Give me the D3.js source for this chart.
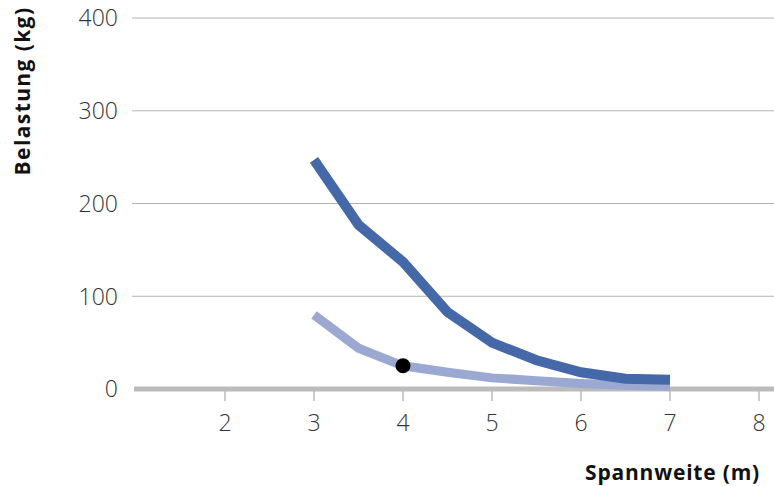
<!DOCTYPE html>
<html>
<head>
<meta charset="utf-8">
<script src="https://cdn.jsdelivr.net/npm/d3@7"></script>
<style>
  body { margin: 0; background: #fff; }
  text { font-family: "Open Sans", "DejaVu Sans", sans-serif; }
</style>
</head>
<body>
<svg id="drawing_region"></svg>
<script>
// Spannweite (m)
const spans = [3, 3.5, 4, 4.5, 5, 5.5, 6, 6.5, 7];
// Belastung (kg)
const loadHigh = [247, 177, 137, 83, 50, 31, 18, 11, 10];
const loadLow = [80, 44, 25, 18, 12, 9, 6, 4, 3];
const marker = {x: 4, y: 25};
const xTicks = [2, 3, 4, 5, 6, 7, 8];
const yTicks = [0, 100, 200, 300, 400];

const width = 774, height = 486;
const margin = {top: 18, right: 15, bottom: 97, left: 136};

const svg = d3.select('#drawing_region')
    .attr('width', width)
    .attr('height', height);

const chart = svg.append('g')
    .attr('transform', `translate(${margin.left}, ${margin.top})`);

const inner_height = height - margin.top - margin.bottom;

const xscale = d3.scaleLinear()
    .domain([1, 8])
    .range([0, 623]);

const yscale = d3.scaleLinear()
    .domain([0, 400])
    .range([inner_height, 0]);

// gridlines
chart.append('g')
    .selectAll('line')
    .data(yTicks.filter(d => d > 0))
    .join('line')
    .attr('x1', -4)
    .attr('x2', width - margin.left)
    .attr('y1', d => yscale(d))
    .attr('y2', d => yscale(d))
    .attr('stroke', '#b3b3b3')
    .attr('stroke-width', 1.2);

// y tick labels
chart.append('g')
    .selectAll('text')
    .data(yTicks)
    .join('text')
    .attr('x', -18)
    .attr('y', d => yscale(d))
    .attr('dy', '0.36em')
    .attr('text-anchor', 'end')
    .attr('font-size', '23px')
    .attr('font-weight', 300)
    .attr('fill', '#333')
    .text(d => d);

// x axis
const xaxis_group = chart.append('g')
    .attr('transform', `translate(0, ${yscale(0)})`);

xaxis_group.selectAll('line.tick')
    .data(xTicks)
    .join('line')
    .attr('class', 'tick')
    .attr('x1', d => xscale(d))
    .attr('x2', d => xscale(d))
    .attr('y1', 0)
    .attr('y2', 12)
    .attr('stroke', '#aaa')
    .attr('stroke-width', 1.2);

xaxis_group.selectAll('text')
    .data(xTicks)
    .join('text')
    .attr('x', d => xscale(d))
    .attr('y', 42)
    .attr('text-anchor', 'middle')
    .attr('font-size', '23px')
    .attr('font-weight', 300)
    .attr('fill', '#333')
    .text(d => d);

// lines
const line = d3.line()
    .x((d, i) => xscale(spans[i]))
    .y(d => yscale(d));

chart.append('path')
    .datum(loadLow)
    .attr('d', line)
    .attr('fill', 'none')
    .attr('stroke', '#9aa8d2')
    .attr('stroke-width', 9);

chart.append('path')
    .datum(loadHigh)
    .attr('d', line)
    .attr('fill', 'none')
    .attr('stroke', '#4569a8')
    .attr('stroke-width', 10);

xaxis_group.append('line')
    .attr('x1', -2)
    .attr('x2', width - margin.left)
    .attr('y1', 0)
    .attr('y2', 0)
    .attr('stroke', '#bbb')
    .attr('stroke-width', 5);

chart.append('circle')
    .attr('cx', xscale(marker.x))
    .attr('cy', yscale(marker.y))
    .attr('r', 7.5)
    .attr('fill', '#000');

// axis titles
svg.append('text')
    .attr('transform', `translate(30, 91) rotate(-90)`)
    .attr('text-anchor', 'middle')
    .attr('font-size', '21px')
    .attr('font-weight', 'bold')
    .attr('letter-spacing', '1.4px')
    .attr('fill', '#111')
    .text('Belastung (kg)');

svg.append('text')
    .attr('x', 760)
    .attr('y', 480)
    .attr('text-anchor', 'end')
    .attr('font-size', '21px')
    .attr('font-weight', 'bold')
    .attr('letter-spacing', '0.8px')
    .attr('fill', '#111')
    .text('Spannweite (m)');
</script>
</body>
</html>
